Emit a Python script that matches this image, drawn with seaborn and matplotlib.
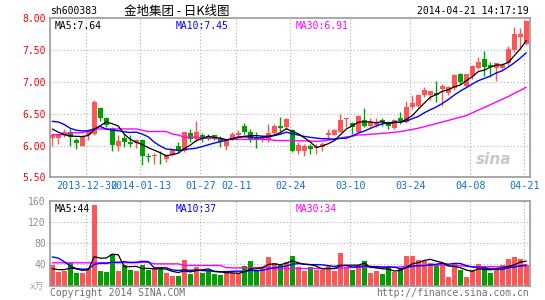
import numpy as np
import pandas as pd
import matplotlib
matplotlib.use("Agg")
import matplotlib.pyplot as plt
import seaborn as sns

# ---------------- data ----------------
date_labels = ["2013-12-30", "2014-01-13", "01-27", "02-11", "02-24",
               "03-10", "03-24", "04-08", "04-21"]
date_index = [6, 15, 25, 31, 40, 50, 60, 70, 79]

opens = [6.12, 6.12, 6.17, 6.22, 6.08, 6.00, 6.17, 6.18, 6.59, 6.43,
         6.27, 6.00, 6.12, 6.05, 6.04, 6.08, 5.84, 5.83, 5.84, 5.79,
         5.85, 5.99, 5.92, 6.19, 6.10, 6.16, 6.13, 6.16, 6.10, 6.00,
         6.10, 6.17, 6.31, 6.22, 6.13, 6.10, 6.08, 6.20, 6.30, 6.29,
         6.25, 5.92, 5.92, 6.00, 5.96, 5.97, 6.16, 6.17, 6.22, 6.41,
         6.35, 6.21, 6.40, 6.30, 6.32, 6.40, 6.37, 6.28, 6.43, 6.37,
         6.60, 6.62, 6.80, 6.80, 6.82, 6.89, 6.83, 6.90, 7.13, 6.94,
         7.09, 7.22, 7.36, 7.26, 7.22, 7.22, 7.29, 7.50, 7.71, 7.60]
highs = [6.18, 6.16, 6.26, 6.26, 6.12, 6.17, 6.26, 6.71, 6.60, 6.45,
         6.29, 6.16, 6.18, 6.16, 6.10, 6.10, 5.88, 5.88, 5.92, 5.87,
         5.95, 6.05, 6.22, 6.26, 6.38, 6.20, 6.18, 6.17, 6.15, 6.10,
         6.22, 6.24, 6.36, 6.26, 6.21, 6.17, 6.34, 6.34, 6.45, 6.43,
         6.26, 6.05, 6.03, 6.03, 6.03, 6.05, 6.26, 6.26, 6.50, 6.43,
         6.37, 6.48, 6.59, 6.43, 6.43, 6.43, 6.39, 6.42, 6.53, 6.70,
         6.79, 6.81, 6.92, 6.86, 7.02, 6.97, 6.94, 7.13, 7.14, 7.13,
         7.26, 7.39, 7.48, 7.31, 7.30, 7.29, 7.57, 7.86, 7.84, 7.97]
lows = [6.00, 6.02, 6.13, 5.99, 5.95, 5.99, 6.08, 6.17, 6.39, 6.29,
        5.92, 5.92, 5.97, 5.97, 5.96, 5.70, 5.74, 5.71, 5.71, 5.74,
        5.84, 5.90, 5.90, 6.05, 6.06, 6.06, 6.08, 6.09, 5.97, 5.93,
        6.08, 6.13, 6.18, 6.05, 5.96, 6.05, 6.05, 6.18, 6.20, 6.26,
        5.90, 5.86, 5.83, 5.87, 5.87, 5.92, 6.09, 6.16, 6.21, 6.29,
        6.18, 6.20, 6.29, 6.29, 6.29, 6.31, 6.26, 6.26, 6.34, 6.36,
        6.58, 6.60, 6.76, 6.71, 6.69, 6.62, 6.80, 6.87, 6.97, 6.92,
        7.05, 7.21, 7.09, 7.08, 7.02, 7.21, 7.27, 7.47, 7.52, 7.58]
closes = [6.17, 6.16, 6.22, 6.13, 6.04, 6.15, 6.25, 6.69, 6.43, 6.33,
          6.01, 6.07, 6.05, 6.03, 6.09, 5.84, 5.82, 5.85, 5.83, 5.85,
          5.94, 5.92, 6.21, 6.11, 6.21, 6.10, 6.10, 6.11, 6.05, 6.08,
          6.18, 6.20, 6.22, 6.08, 6.10, 6.13, 6.20, 6.31, 6.27, 6.41,
          5.92, 6.01, 6.00, 5.94, 5.98, 6.03, 6.19, 6.24, 6.40, 6.43,
          6.29, 6.46, 6.30, 6.37, 6.37, 6.37, 6.30, 6.40, 6.38, 6.60,
          6.67, 6.80, 6.88, 6.85, 6.80, 6.93, 6.92, 7.11, 7.00, 7.13,
          7.25, 7.32, 7.23, 7.23, 7.29, 7.27, 7.51, 7.76, 7.76, 7.95]
volumes = [38.7, 25.5, 27.4, 43.0, 23.6, 23.0, 32.4, 152.0, 27.4, 25.5,
           58.8, 27.4, 38.0, 29.3, 27.4, 38.7, 29.3, 32.4, 31.2, 23.0,
           18.0, 18.0, 48.2, 21.7, 35.6, 24.3, 28.0, 21.7, 19.9, 27.4,
           23.0, 23.0, 36.8, 46.3, 28.7, 33.7, 53.8, 42.5, 38.0, 43.8,
           55.7, 35.6, 27.4, 35.6, 29.3, 29.3, 38.7, 27.4, 61.4, 35.6,
           29.3, 38.7, 46.3, 24.3, 27.4, 21.7, 36.8, 26.2, 31.2, 55.7,
           55.7, 48.2, 46.3, 41.9, 38.7, 41.9, 16.7, 41.9, 29.3, 16.7,
           29.3, 40.6, 36.8, 24.3, 29.3, 38.7, 50.0, 53.8, 50.0, 38.7]

# moving-average values at the start of the window (read from the picture,
# since they depend on days before the visible range)
ma5_head = [6.26, 6.21, 6.17, 6.15]
ma10_head = [6.38, 6.37, 6.33, 6.27, 6.24, 6.23, 6.23, 6.26, 6.30]
ma30_head = [6.17, 6.17, 6.17, 6.20, 6.20, 6.20, 6.23, 6.26, 6.26, 6.26,
             6.26, 6.26, 6.26, 6.26, 6.26, 6.24, 6.22, 6.22, 6.22, 6.22,
             6.18, 6.165, 6.13, 6.13, 6.13, 6.115, 6.115, 6.115, 6.105]
vma5_head = [32, 30, 30, 33]
vma10_head = [54, 52, 45, 37, 32, 31, 31, 40, 42]
vma30_head = [43, 43, 43, 43, 43, 43, 43, 43, 43, 43,
              43, 43, 43, 43, 43, 44, 44, 41, 41, 41,
              41, 41, 38, 38, 38, 38, 38, 38, 38]

price_ticks = [5.5, 6.0, 6.5, 7.0, 7.5, 8.0]
vol_ticks = [40, 80, 120, 160]

# ---------------- styling ----------------
RED = "#FF5555"
GREEN = "#00A000"
GRID = "#B0B0B0"
BORDER = "#999999"
DATECOL = "#1572C8"

sns.set_theme(style="white")
plt.rcParams['font.family'] = ['DejaVu Sans Mono', 'Noto Sans CJK SC']

W, H = 545, 300
fig = plt.figure(figsize=(W / 100, H / 100), dpi=100)
ax1 = fig.add_axes([50 / W, 1 - 177.3 / H, 480 / W, (177.3 - 18.3) / H])
ax2 = fig.add_axes([50 / W, 1 - 285.5 / H, 480 / W, (285.5 - 201) / H])

n = len(closes)
idx = np.arange(n)
o = np.array(opens); c = np.array(closes)
h = np.array(highs); l = np.array(lows)
up = c >= o
cols = np.where(up, RED, GREEN)


def moving(values, win, head):
    s = pd.Series(values, dtype=float).rolling(win).mean()
    s.iloc[:len(head)] = head
    return s.values


ma5 = moving(closes, 5, ma5_head)
ma10 = moving(closes, 10, ma10_head)
ma30 = moving(closes, 30, ma30_head)
vma5 = moving(volumes, 5, vma5_head)
vma10 = moving(volumes, 10, vma10_head)
vma30 = moving(volumes, 30, vma30_head)

xlim = (-0.38, n - 0.38)
grid_x = [i - 0.3 for i in date_index]

# ---------------- price panel ----------------
for gx in grid_x:
    ax1.axvline(gx, color=GRID, lw=0.8, ls=(0, (1, 2)), zorder=0)
for gy in price_ticks[1:-1]:
    ax1.axhline(gy, color=GRID, lw=0.8, ls=(0, (1, 2)), zorder=0)

ax1.vlines(idx, l, h, colors=cols, lw=1.0, zorder=2)
body_h = np.maximum(np.abs(c - o), 0.012)
ax1.bar(idx, body_h, bottom=np.minimum(o, c), width=0.8, color=cols,
        linewidth=0, zorder=3)

sns.lineplot(x=idx, y=ma30, color="#FF00FF", lw=1.0, ax=ax1, zorder=4)
sns.lineplot(x=idx, y=ma10, color="#0000FF", lw=1.0, ax=ax1, zorder=5)
sns.lineplot(x=idx, y=ma5, color="black", lw=0.9, ax=ax1, zorder=6)

ax1.set_xlim(*xlim)
ax1.set_ylim(5.5, 8.0)
ax1.set_yticks(price_ticks)
ax1.set_yticklabels([f"{v:.2f}" for v in price_ticks], color="red", fontsize=7)
ax1.set_xticks(grid_x)
ax1.set_xticklabels(date_labels, color=DATECOL, fontsize=7.3)
ax1.tick_params(axis="both", length=0, pad=3)
ax1.set_xlabel(""); ax1.set_ylabel("")

ax1.text(0.01, 0.985, "MA5:7.64", transform=ax1.transAxes, color="black",
         fontsize=7, va="top", ha="left")
ax1.text(0.262, 0.985, "MA10:7.45", transform=ax1.transAxes, color="#0000FF",
         fontsize=7, va="top", ha="left")
ax1.text(0.512, 0.985, "MA30:6.91", transform=ax1.transAxes, color="#FF00FF",
         fontsize=7, va="top", ha="left")
ax1.text(0.962, 0.115, "sina", transform=ax1.transAxes, color="#C8C8C8",
         fontsize=11, fontstyle="italic", fontweight="bold", ha="right",
         va="center", family="DejaVu Sans")

# ---------------- volume panel ----------------
for gx in grid_x:
    ax2.axvline(gx, color=GRID, lw=0.8, ls=(0, (1, 2)), zorder=0)
for gy in vol_ticks[:-1]:
    ax2.axhline(gy, color=GRID, lw=0.8, ls=(0, (1, 2)), zorder=0)

vdf = pd.DataFrame({"x": idx, "vol": volumes,
                    "dir": np.where(up, "up", "down")})
sns.barplot(data=vdf, x="x", y="vol", hue="dir",
            palette={"up": RED, "down": GREEN}, dodge=False, width=0.8,
            native_scale=True, saturation=1, legend=False, ax=ax2,
            linewidth=0, zorder=2)
sns.lineplot(x=idx, y=vma30, color="#FF00FF", lw=1.0, ax=ax2, zorder=4)
sns.lineplot(x=idx, y=vma10, color="#0000FF", lw=1.0, ax=ax2, zorder=5)
sns.lineplot(x=idx, y=vma5, color="black", lw=0.9, ax=ax2, zorder=6)

ax2.set_xlim(*xlim)
ax2.set_ylim(0, 160)
ax2.set_yticks(vol_ticks)
ax2.set_yticklabels([str(v) for v in vol_ticks], color="#909090", fontsize=7)
ax2.set_xticks([])
ax2.tick_params(axis="both", length=0, pad=3)
ax2.set_xlabel(""); ax2.set_ylabel("")

ax2.text(0.01, 0.97, "MA5:44", transform=ax2.transAxes, color="black",
         fontsize=7, va="top", ha="left")
ax2.text(0.262, 0.97, "MA10:37", transform=ax2.transAxes, color="#0000FF",
         fontsize=7, va="top", ha="left")
ax2.text(0.512, 0.97, "MA30:34", transform=ax2.transAxes, color="#FF00FF",
         fontsize=7, va="top", ha="left")

for ax in (ax1, ax2):
    for sp in ax.spines.values():
        sp.set_color(BORDER)
        sp.set_linewidth(1.2)

# ---------------- header / footer text ----------------
def ftext(x, y, s, **kw):
    fig.text(x / W, 1 - y / H, s, va="center", **kw)

ftext(50, 11, "sh600383", color="black", fontsize=7, ha="left")
ftext(177, 11, "金地集团 - 日K线图", color="black", fontsize=9, ha="center",
      family=["Noto Sans CJK SC", "DejaVu Sans"])
ftext(529, 11, "2014-04-21 14:17:19", color="black", fontsize=7, ha="right")
ftext(44, 287, "x万", color="#A0A0A0", fontsize=6.5, ha="right",
      family=["DejaVu Sans Mono", "Noto Sans CJK SC"])
ftext(50, 293, "Copyright 2014 SINA.COM", color="#707070", fontsize=7,
      ha="left")
ftext(529, 293, "http://finance.sina.com.cn", color="#707070", fontsize=7,
      ha="right")

fig.savefig("out.png", dpi=100)
